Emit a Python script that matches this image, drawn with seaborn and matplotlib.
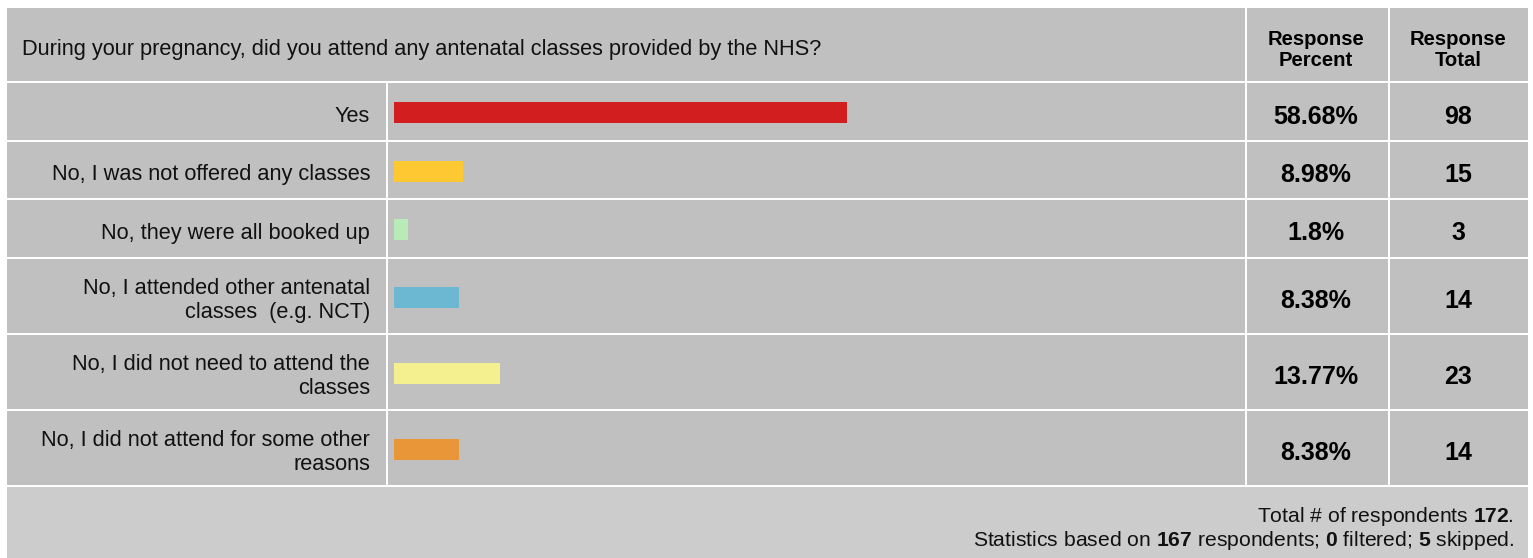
import matplotlib
matplotlib.use("Agg")
import matplotlib.pyplot as plt
from matplotlib.patches import Rectangle
import seaborn as sns

question = "During your pregnancy, did you attend any antenatal classes provided by the NHS?"
categories = [
    "Yes",
    "No, I was not offered any classes",
    "No, they were all booked up",
    "No, I attended other antenatal\nclasses  (e.g. NCT)",
    "No, I did not need to attend the\nclasses",
    "No, I did not attend for some other\nreasons",
]
percents = [58.68, 8.98, 1.8, 8.38, 13.77, 8.38]
percent_labels = ["58.68%", "8.98%", "1.8%", "8.38%", "13.77%", "8.38%"]
totals = [98, 15, 3, 14, 23, 14]
bar_colors = ["#d21e1e", "#fec832", "#b8ebb8", "#6cb8d2", "#f5f08f", "#e89637"]
total_respondents = 172
based_on = 167
filtered = 0
skipped = 5

sns.set_theme(style="white")
plt.rcParams["font.family"] = ["Liberation Sans", "DejaVu Sans"]
plt.rcParams["mathtext.fontset"] = "custom"
plt.rcParams["mathtext.rm"] = "Liberation Sans"
plt.rcParams["mathtext.bf"] = "Liberation Sans:bold"

W, H = 1533, 558
fig = plt.figure(figsize=(W / 100, H / 100), dpi=100)
fig.patch.set_facecolor("white")

GRAY = "#c0c0c0"
FOOT = "#cccccc"


def fx(px):
    return px / W


def fy(py):
    return 1 - py / H


def cell(x0, y0, x1, y1, color=GRAY):
    fig.patches.append(Rectangle((fx(x0), fy(y1)), fx(x1) - fx(x0), fy(y0) - fy(y1),
                                 transform=fig.transFigure, facecolor=color,
                                 edgecolor="none", zorder=-5))


LEFT, DIV1, DIV2, DIV3, RIGHT = 7, 386, 1245, 1388, 1528

# header
cell(LEFT, 8, DIV2, 81)
cell(DIV2 + 2, 8, DIV3, 81)
cell(DIV3 + 2, 8, RIGHT, 81)
fig.text(fx(22), fy(50), question, ha="left", va="center", fontsize=15.7, color="#111111")
fig.text(fx(1316), fy(50), "Response\nPercent", ha="center", va="center", fontsize=14.6,
         color="#000000", linespacing=1.1, fontweight="bold")
fig.text(fx(1458), fy(50), "Response\nTotal", ha="center", va="center", fontsize=14.6,
         color="#000000", linespacing=1.1, fontweight="bold")

rows = [(83, 140), (142, 198), (200, 257), (259, 333), (335, 409), (411, 485)]
BAR_X0, BAR_FULL = 394, 772
BAR_H = 21

for i, (y0, y1) in enumerate(rows):
    cell(LEFT, y0, DIV1, y1)
    cell(DIV1 + 2, y0, DIV2, y1)
    cell(DIV2 + 2, y0, DIV3, y1)
    cell(DIV3 + 2, y0, RIGHT, y1)
    yc = (y0 + y1) / 2
    fig.text(fx(370), fy(yc + 4.5), categories[i], ha="right", va="center",
             multialignment="right", fontsize=15.7, color="#111111", linespacing=1.2)
    fig.text(fx(1316), fy(yc + 5), percent_labels[i], ha="center", va="center",
             fontsize=18, color="#000000", fontweight="bold")
    fig.text(fx(1458), fy(yc + 5), str(totals[i]), ha="center", va="center",
             fontsize=18, color="#000000", fontweight="bold")
    rh = y1 - y0
    ax = fig.add_axes([fx(BAR_X0), fy(y1), BAR_FULL / W, rh / H])
    sns.barplot(x=[percents[i]], y=[categories[i]], color=bar_colors[i], saturation=1,
                width=BAR_H / rh, linewidth=0, ax=ax, orient="h")
    ax.set_xlim(0, 100)
    ax.set_ylim(0.48, -0.52)
    ax.set_axis_off()
    ax.patch.set_alpha(0)

# footer
cell(LEFT, 487, RIGHT, H + 5, FOOT)
fig.text(fx(1514), fy(517), r"Total # of respondents $\mathbf{%d}$." % total_respondents,
         ha="right", va="center", fontsize=15.2, color="#111111")
fig.text(fx(1514), fy(540),
         r"Statistics based on $\mathbf{%d}$ respondents; $\mathbf{%d}$ filtered; $\mathbf{%d}$ skipped."
         % (based_on, filtered, skipped),
         ha="right", va="center", fontsize=15.2, color="#111111")

fig.savefig("out.png", dpi=100, facecolor="white")
